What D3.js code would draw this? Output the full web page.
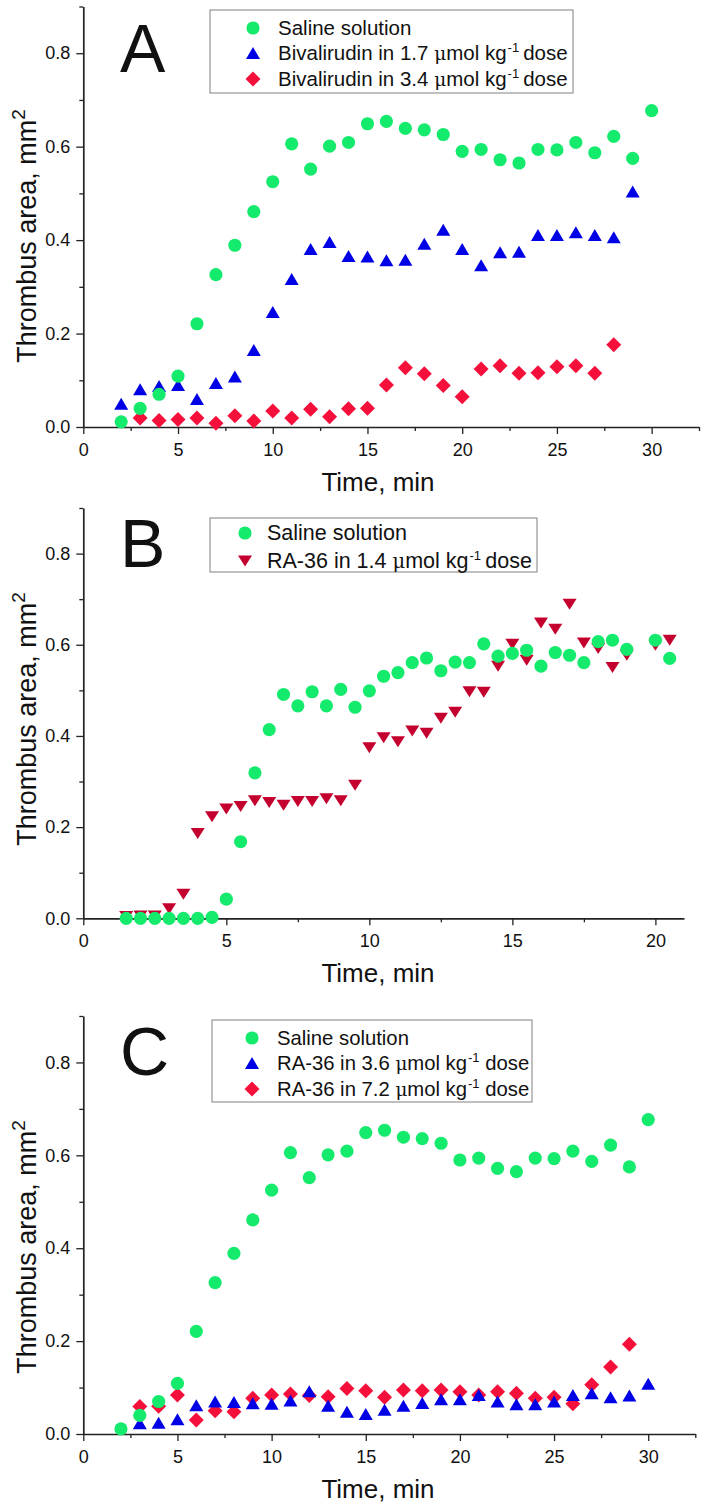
<!DOCTYPE html>
<html>
<head>
<meta charset="utf-8">
<script src="https://cdn.jsdelivr.net/npm/d3@7"></script>
<style>
  body { margin: 0; background: #fff; }
  svg { display: block; }
  text { font-family: Arial, "Liberation Sans", sans-serif; fill: #111; }
</style>
</head>
<body>
<script>
// ---- data (time in min, thrombus area in mm2) ----
var salineTime = [2,3,4,5,6,7,8,9,10,11,12,13,14,15,16,17,18,19,20,21,22,23,24,25,26,27,28,29,30];
var salineArea = [0.011,0.040,0.070,0.109,0.221,0.326,0.389,0.461,0.525,0.606,0.552,0.601,0.609,0.649,0.654,0.639,0.636,0.626,0.590,0.594,0.572,0.565,0.594,0.593,0.609,0.587,0.622,0.575,0.677];

var bival17Time = [2,3,4,5,6,7,8,9,10,11,12,13,14,15,16,17,18,19,20,21,22,23,24,25,26,27,28,29];
var bival17Area = [0.050,0.081,0.088,0.090,0.060,0.094,0.108,0.165,0.246,0.317,0.381,0.396,0.366,0.365,0.357,0.358,0.392,0.422,0.381,0.346,0.374,0.375,0.411,0.411,0.417,0.411,0.406,0.504];

var bival34Time = [3,4,5,6,7,8,9,10,11,12,13,14,15,16,17,18,19,20,21,22,23,24,25,26,27,28];
var bival34Area = [0.019,0.014,0.016,0.019,0.008,0.024,0.013,0.034,0.019,0.038,0.022,0.039,0.040,0.090,0.127,0.114,0.089,0.065,0.124,0.131,0.115,0.116,0.129,0.131,0.115,0.176];

var salineBTime = [1.5,2,2.5,3,3.5,4,4.5,5,5.5,6,6.5,7,7.5,8,8.5,9,9.5,10,10.5,11,11.5,12,12.5,13,13.5,14,14.5,15,15.5,16,16.5,17,17.5,18,18.5,19,20,20.5];
var salineBArea = [0.000,0.000,0.000,0.000,0.000,0.000,0.002,0.042,0.168,0.319,0.414,0.491,0.466,0.497,0.466,0.502,0.463,0.499,0.531,0.539,0.561,0.571,0.543,0.562,0.561,0.602,0.575,0.581,0.588,0.553,0.583,0.577,0.561,0.607,0.610,0.590,0.610,0.570];

var ra14Time = [1.5,2,2.5,3,3.5,4,4.5,5,5.5,6,6.5,7,7.5,8,8.5,9,9.5,10,10.5,11,11.5,12,12.5,13,13.5,14,14.5,15,15.5,16,16.5,17,17.5,18,18.5,19,20,20.5];
var ra14Area = [0.004,0.005,0.005,0.021,0.053,0.186,0.223,0.240,0.245,0.258,0.254,0.248,0.256,0.256,0.262,0.258,0.292,0.374,0.396,0.387,0.411,0.406,0.439,0.452,0.497,0.496,0.553,0.601,0.566,0.648,0.634,0.689,0.604,0.592,0.550,0.577,0.599,0.610];

var ra36Time = [3,4,5,6,7,8,9,10,11,12,13,14,15,16,17,18,19,20,21,22,23,24,25,26,27,28,29,30];
var ra36Area = [0.023,0.024,0.032,0.062,0.070,0.069,0.066,0.065,0.072,0.092,0.061,0.048,0.043,0.052,0.061,0.067,0.075,0.075,0.084,0.070,0.064,0.064,0.070,0.084,0.088,0.079,0.083,0.108];

var ra72Time = [3,4,5,6,7,8,9,10,11,12,13,14,15,16,17,18,19,20,21,22,23,24,25,26,27,28,29];
var ra72Area = [0.059,0.060,0.084,0.030,0.050,0.048,0.077,0.084,0.086,0.083,0.080,0.098,0.093,0.079,0.095,0.093,0.095,0.091,0.084,0.091,0.088,0.077,0.079,0.065,0.106,0.144,0.193];

var yTicks = [0, 0.2, 0.4, 0.6, 0.8];
var yMinor = [0.1, 0.3, 0.5, 0.7, 0.9];
var xTicks30 = [0, 5, 10, 15, 20, 25, 30];
var xMinor30 = [2.5, 7.5, 12.5, 17.5, 22.5, 27.5, 32.5];
var xTicks20 = [0, 5, 10, 15, 20];
var xMinor20 = [2.5, 7.5, 12.5, 17.5];

var colGreen = "#14ea6c", colBlue = "#0000e6", colRed = "#f5103c", colDark = "#c4002e";

function zip(t, v) { return t.map(function(d, i) { return [d, v[i]]; }); }

// legend label pieces: plain text, mu (symbol), sup (superscript)
function doseLabel(name, dose, gap) {
    return [{t: name + " in " + dose + " "}, {t: "\u03bc", mu: true}, {t: "mol kg"}, {t: "-1", sup: true}, {t: (gap ? " " : "\u2009") + "dose"}];
}

var panels = [
    {
        letter: "A", top: 6.5, bottom: 427, right: 699, xMax: 32.5,
        xTicks: xTicks30, xMinor: xMinor30, titleY: 236, letterY: 72,
        legend: {x: 210, y: 10, w: 363, h: 83, rows: [28, 53, 79], mx: 253, tx: 278, fs: 20.5},
        series: [
            {pts: zip(salineTime, salineArea), shape: "circle", color: colGreen, label: [{t: "Saline solution"}]},
            {pts: zip(bival17Time, bival17Area), shape: "up", color: colBlue, label: doseLabel("Bivalirudin", "1.7", false)},
            {pts: zip(bival34Time, bival34Area), shape: "diamond", color: colRed, label: doseLabel("Bivalirudin", "3.4", false)}
        ]
    },
    {
        letter: "B", top: 508, bottom: 918.3, right: 684, xMax: 21,
        xTicks: xTicks20, xMinor: xMinor20, titleY: 719, letterY: 567,
        legend: {x: 210, y: 518, w: 327, h: 54, rows: [533, 561], mx: 245, tx: 267, fs: 21.5},
        series: [
            {pts: zip(salineBTime, salineBArea), shape: "circle", color: colGreen, label: [{t: "Saline solution"}]},
            {pts: zip(ra14Time, ra14Area), shape: "down", color: colDark, label: doseLabel("RA-36", "1.4", false)}
        ]
    },
    {
        letter: "C", top: 1016, bottom: 1434, right: 695.3, xMax: 32.5,
        xTicks: xTicks30, xMinor: xMinor30, titleY: 1247, letterY: 1075,
        legend: {x: 212, y: 1020, w: 320, h: 82, rows: [1038, 1063, 1089], mx: 252, tx: 277, fs: 20.3},
        series: [
            {pts: zip(salineTime, salineArea), shape: "circle", color: colGreen, label: [{t: "Saline solution"}]},
            {pts: zip(ra36Time, ra36Area), shape: "up", color: colBlue, label: doseLabel("RA-36", "3.6", true)},
            {pts: zip(ra72Time, ra72Area), shape: "diamond", color: colRed, label: doseLabel("RA-36", "7.2", true)}
        ]
    }
];

var markerPath = {
    circle: d3.symbol(d3.symbolCircle, 136)(),
    up: "M0,-6L7,6L-7,6Z",
    down: "M-7,-5.5L7,-5.5L0,5.5Z",
    diamond: "M0,-7.5L7.5,0L0,7.5L-7.5,0Z"
};

var svg = d3.select("body").append("svg")
    .attr("width", 707)
    .attr("height", 1508);

var left = 83.3;

panels.forEach(function(p) {
    var x = d3.scaleLinear().domain([0, p.xMax]).range([left, p.right]);
    var y = d3.scaleLinear().domain([0, 0.9]).range([p.bottom, p.top]);
    var g = svg.append("g");

    // minor ticks
    g.append("g")
        .attr("transform", "translate(0," + p.bottom + ")")
        .call(d3.axisBottom(x).tickValues(p.xMinor).tickSize(4).tickFormat(""))
        .call(function(s) { s.select(".domain").remove(); });
    g.append("g")
        .attr("transform", "translate(" + left + ",0)")
        .call(d3.axisLeft(y).tickValues(yMinor).tickSize(4).tickFormat(""))
        .call(function(s) { s.select(".domain").remove(); });

    // major axes
    var xa = g.append("g")
        .attr("transform", "translate(0," + p.bottom + ")")
        .call(d3.axisBottom(x).tickValues(p.xTicks).tickSize(7).tickSizeOuter(0).tickPadding(9).tickFormat(d3.format("d")));
    var ya = g.append("g")
        .attr("transform", "translate(" + left + ",0)")
        .call(d3.axisLeft(y).tickValues(yTicks).tickSize(7).tickSizeOuter(0).tickPadding(6).tickFormat(d3.format(".1f")));

    [xa, ya].forEach(function(a) {
        a.attr("font-family", null).attr("font-size", 18);
        a.select(".domain").attr("stroke", "#222").attr("stroke-width", 1.7);
    });
    g.selectAll(".tick line").attr("stroke", "#222").attr("stroke-width", 1.3);
    g.selectAll(".tick text").attr("fill", "#111");

    // axis titles
    g.append("text")
        .attr("x", 378)
        .attr("y", p.bottom + 64)
        .attr("text-anchor", "middle")
        .attr("font-size", 26)
        .text("Time, min");

    var yt = g.append("text")
        .attr("transform", "translate(36," + p.titleY + ") rotate(-90)")
        .attr("text-anchor", "middle")
        .attr("font-size", 27);
    yt.append("tspan").text("Thrombus area, mm");
    yt.append("tspan").attr("font-size", 19).attr("dy", -11).text("2");

    // panel letter
    g.append("text")
        .attr("x", 120)
        .attr("y", p.letterY)
        .attr("font-size", 68)
        .text(p.letter);

    // points: saline drawn last so it sits on top
    p.series.slice().reverse().forEach(function(s) {
        g.append("g").selectAll("path")
            .data(s.pts)
            .enter()
            .append("path")
            .attr("d", markerPath[s.shape])
            .attr("transform", function(d) { return "translate(" + x(d[0]) + "," + y(d[1]) + ")"; })
            .attr("fill", s.color);
    });

    // legend
    var L = p.legend;
    g.append("rect")
        .attr("x", L.x).attr("y", L.y)
        .attr("width", L.w).attr("height", L.h)
        .attr("fill", "#fff")
        .attr("stroke", "#808080")
        .attr("stroke-width", 1);
    p.series.forEach(function(s, i) {
        var cy = L.rows[i];
        g.append("path")
            .attr("d", markerPath[s.shape])
            .attr("transform", "translate(" + L.mx + "," + cy + ")")
            .attr("fill", s.color);
        var t = g.append("text")
            .attr("x", L.tx)
            .attr("y", cy + 7)
            .attr("font-size", L.fs);
        var raised = false;
        s.label.forEach(function(seg) {
            var ts = t.append("tspan").text(seg.t);
            if (seg.mu) {
                ts.attr("font-family", "'DejaVu Serif', serif").attr("font-size", L.fs - 2);
            }
            if (seg.sup) {
                ts.attr("font-size", 13).attr("dy", -8).attr("dx", 1);
                raised = true;
            } else if (raised) {
                ts.attr("dy", 8);
                raised = false;
            }
        });
    });
});
</script>
</body>
</html>
